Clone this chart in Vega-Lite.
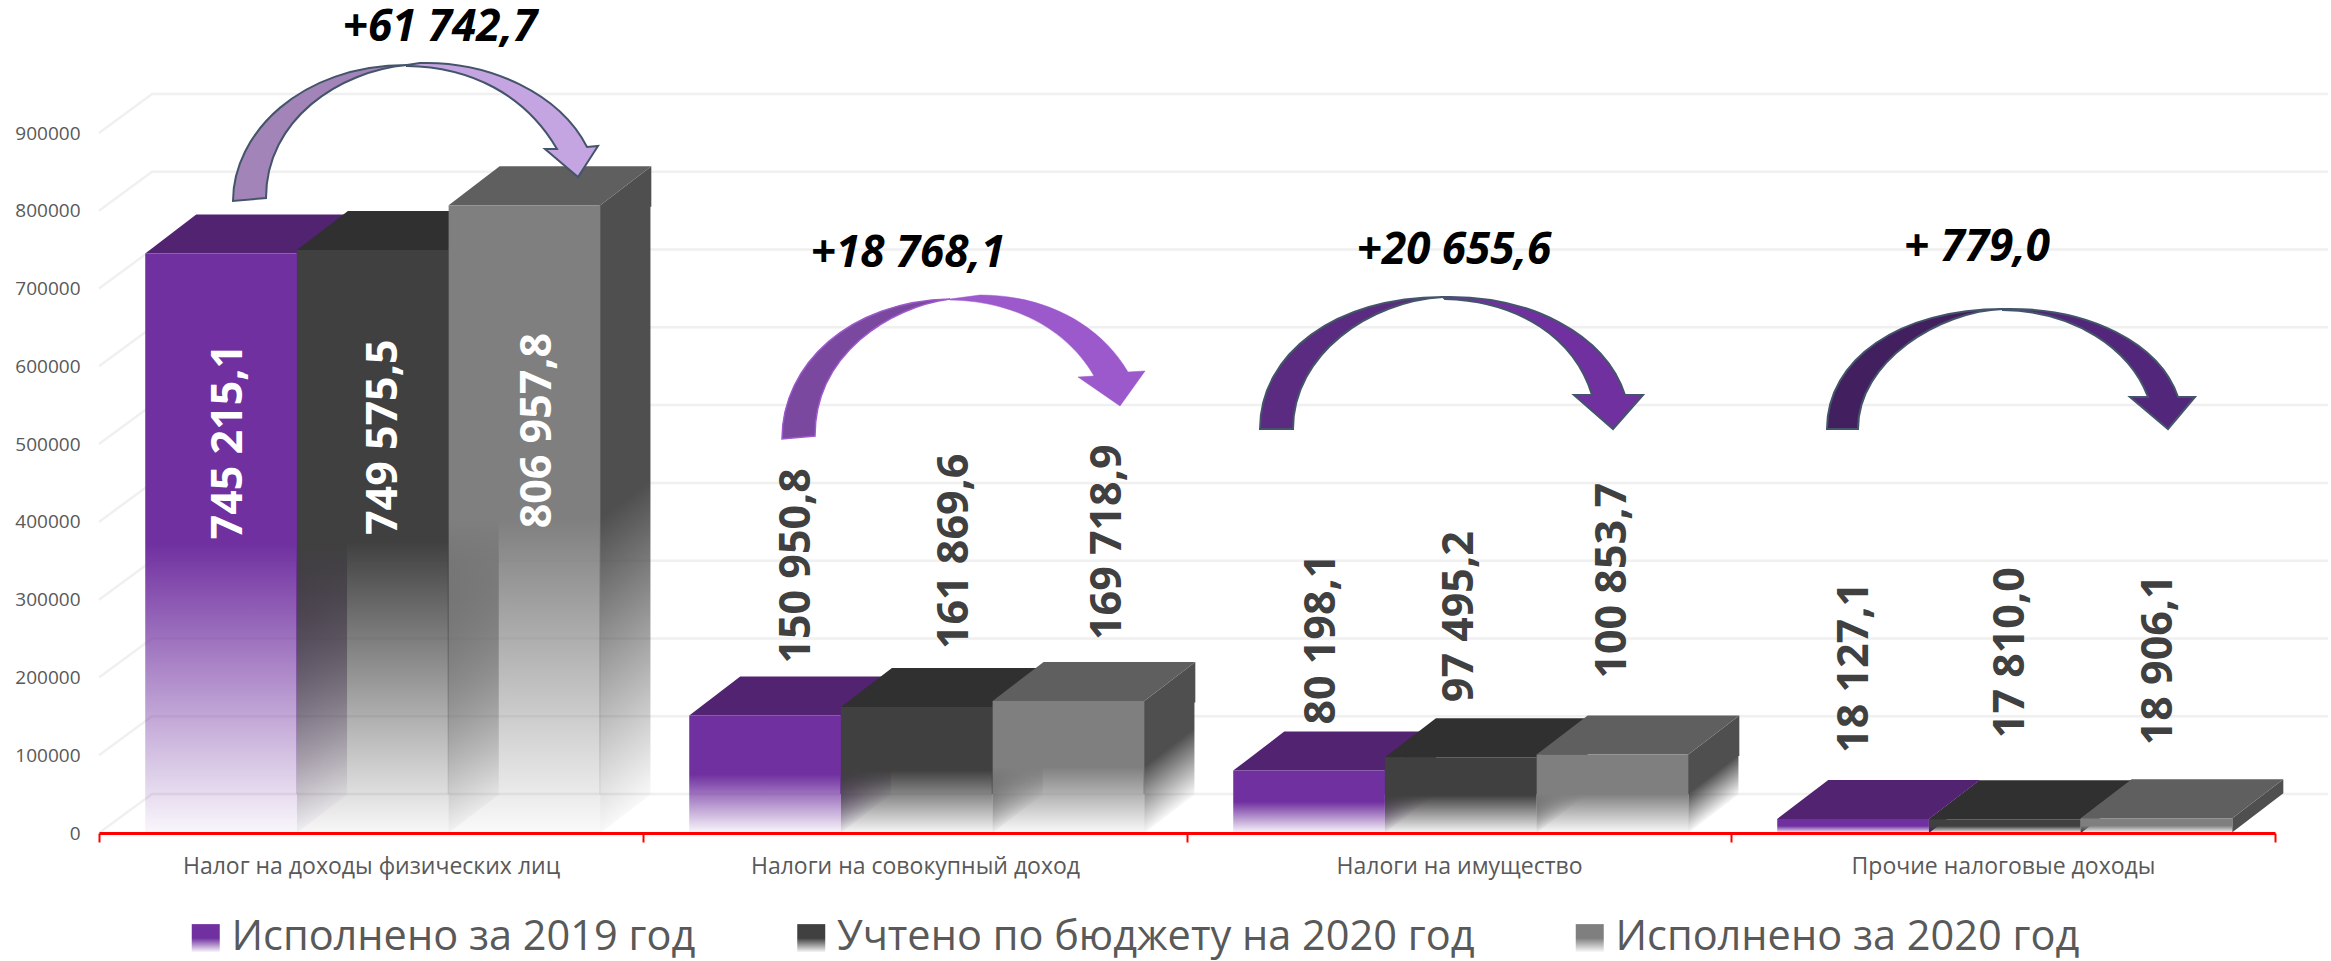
{"$schema":"https://vega.github.io/schema/vega-lite/v6.json","width":2176,"height":700,"autosize":{"type":"none"},"padding":{"left":99,"top":133,"right":56,"bottom":128},"background":"#ffffff",
"params":[
{"name":"sideRGB","value":{"Исполнено за 2019 год":"69,33,95","Учтено по бюджету на 2020 год":"48,48,48","Исполнено за 2020 год":"79,79,79"}},
{"name":"topRGB","value":{"Исполнено за 2019 год":"82,35,112","Учтено по бюджету на 2020 год":"48,48,48","Исполнено за 2020 год":"95,95,95"}},
{"name":"gap","value":{"745 215,1":-286,"749 575,5":-285,"806 957,8":-323,"150 950,8":52,"161 869,6":58,"169 718,9":61,"80 198,1":46,"97 495,2":55,"100 853,7":76,"18 127,1":66,"17 810,0":81,"18 906,1":73}},
{"name":"shift","value":{"745 215,1":8,"749 575,5":11,"806 957,8":14,"150 950,8":32,"161 869,6":38,"169 718,9":40,"80 198,1":13,"97 495,2":-1,"100 853,7":1,"18 127,1":2,"17 810,0":6,"18 906,1":3}},
{"name":"noteDx","value":{"+61 742,7":69,"+18 768,1":-7,"+20 655,6":-5,"+ 779,0":-26}},
{"name":"noteDy","value":{"+61 742,7":-805,"+18 768,1":-579,"+20 655,6":-582,"+ 779,0":-585}}
],
"datasets":{
"bars":[
{"category":"Налог на доходы физических лиц","series":"Исполнено за 2019 год","value":745215.1,"label":"745 215,1"},
{"category":"Налог на доходы физических лиц","series":"Учтено по бюджету на 2020 год","value":749575.5,"label":"749 575,5"},
{"category":"Налог на доходы физических лиц","series":"Исполнено за 2020 год","value":806957.8,"label":"806 957,8"},
{"category":"Налоги на совокупный доход","series":"Исполнено за 2019 год","value":150950.8,"label":"150 950,8"},
{"category":"Налоги на совокупный доход","series":"Учтено по бюджету на 2020 год","value":161869.6,"label":"161 869,6"},
{"category":"Налоги на совокупный доход","series":"Исполнено за 2020 год","value":169718.9,"label":"169 718,9"},
{"category":"Налоги на имущество","series":"Исполнено за 2019 год","value":80198.1,"label":"80 198,1"},
{"category":"Налоги на имущество","series":"Учтено по бюджету на 2020 год","value":97495.2,"label":"97 495,2"},
{"category":"Налоги на имущество","series":"Исполнено за 2020 год","value":100853.7,"label":"100 853,7"},
{"category":"Прочие налоговые доходы","series":"Исполнено за 2019 год","value":18127.1,"label":"18 127,1"},
{"category":"Прочие налоговые доходы","series":"Учтено по бюджету на 2020 год","value":17810.0,"label":"17 810,0"},
{"category":"Прочие налоговые доходы","series":"Исполнено за 2020 год","value":18906.1,"label":"18 906,1"}
],
"ticks":[{"tick":0},{"tick":100000},{"tick":200000},{"tick":300000},{"tick":400000},{"tick":500000},{"tick":600000},{"tick":700000},{"tick":800000},{"tick":900000}],
"changes":[
{"category":"Налог на доходы физических лиц","change":"+61 742,7"},
{"category":"Налоги на совокупный доход","change":"+18 768,1"},
{"category":"Налоги на имущество","change":"+20 655,6"},
{"category":"Прочие налоговые доходы","change":"+ 779,0"}
]},
"layer":[
{"data":{"name":"ticks"},"mark":{"type":"point","shape":"M0,0L53,-39L2229,-39","size":4,"filled":false,"opacity":1,"stroke":"#f0f0f0","strokeWidth":2.5},"encoding":{"x":{"datum":"Налог на доходы физических лиц","type":"nominal","bandPosition":0,"scale":{"type":"band","domain":["Налог на доходы физических лиц","Налоги на совокупный доход","Налоги на имущество","Прочие налоговые доходы"],"paddingInner":0,"paddingOuter":0}},"y":{"field":"tick","type":"quantitative","scale":{"domain":[0,900000],"nice":false},"axis":{"title":null,"values":[0,100000,200000,300000,400000,500000,600000,700000,800000,900000],"format":"d","grid":false,"domain":false,"ticks":false,"labelFont":"Open Sans","labelFontSize":19,"labelColor":"#595959","labelPadding":19}}}},
{"data":{"name":"bars"},"transform":[{"filter":"datum.value>=50000 && datum.series=='Исполнено за 2019 год'"}],"mark":{"type":"bar","width":51,"xOffset":-49.45,"y2Offset":-39,"fill":{"expr":"{gradient:'linear',x1:0,y1:0,x2:(50142.857/datum.value)/(pow(50142.857/datum.value,2)+pow(1-50142.857/datum.value,2)),y2:(1-50142.857/datum.value)/(pow(50142.857/datum.value,2)+pow(1-50142.857/datum.value,2)),stops:[{offset:0,color:'rgba('+sideRGB[datum.series]+',1)'},{offset:0.5,color:'rgba('+sideRGB[datum.series]+',1)'},{offset:1,color:'rgba('+sideRGB[datum.series]+',0.04)'}]}"}},"encoding":{"x":{"field":"category","type":"nominal"},"y":{"field":"value","type":"quantitative","stack":null},"y2":{"datum":0}}},
{"data":{"name":"bars"},"transform":[{"filter":"datum.value>=50000 && datum.series=='Учтено по бюджету на 2020 год'"}],"mark":{"type":"bar","width":51,"xOffset":102.25,"y2Offset":-39,"fill":{"expr":"{gradient:'linear',x1:0,y1:0,x2:(50142.857/datum.value)/(pow(50142.857/datum.value,2)+pow(1-50142.857/datum.value,2)),y2:(1-50142.857/datum.value)/(pow(50142.857/datum.value,2)+pow(1-50142.857/datum.value,2)),stops:[{offset:0,color:'rgba('+sideRGB[datum.series]+',1)'},{offset:0.5,color:'rgba('+sideRGB[datum.series]+',1)'},{offset:1,color:'rgba('+sideRGB[datum.series]+',0.04)'}]}"}},"encoding":{"x":{"field":"category","type":"nominal"},"y":{"field":"value","type":"quantitative","stack":null},"y2":{"datum":0}}},
{"data":{"name":"bars"},"transform":[{"filter":"datum.value>=50000 && datum.series=='Исполнено за 2020 год'"}],"mark":{"type":"bar","width":51,"xOffset":253.95,"y2Offset":-39,"fill":{"expr":"{gradient:'linear',x1:0,y1:0,x2:(50142.857/datum.value)/(pow(50142.857/datum.value,2)+pow(1-50142.857/datum.value,2)),y2:(1-50142.857/datum.value)/(pow(50142.857/datum.value,2)+pow(1-50142.857/datum.value,2)),stops:[{offset:0,color:'rgba('+sideRGB[datum.series]+',1)'},{offset:0.5,color:'rgba('+sideRGB[datum.series]+',1)'},{offset:1,color:'rgba('+sideRGB[datum.series]+',0.04)'}]}"}},"encoding":{"x":{"field":"category","type":"nominal"},"y":{"field":"value","type":"quantitative","stack":null},"y2":{"datum":0}}},
{"data":{"name":"bars"},"transform":[{"filter":"datum.value>=50000"}],"mark":{"type":"point","shape":"M75.85,0L126.85,-39L126.85,1.5L75.85,1.5Z","size":4,"filled":true,"opacity":1,"fill":{"expr":"'rgb('+sideRGB[datum.series]+')'"}},"encoding":{"x":{"field":"category","type":"nominal"},"xOffset":{"field":"series","type":"nominal","scale":{"type":"band","domain":["Исполнено за 2019 год","Учтено по бюджету на 2020 год","Исполнено за 2020 год"],"paddingInner":0,"paddingOuter":0.293,"align":0.52}},"y":{"field":"value","type":"quantitative"}}},
{"data":{"name":"bars"},"transform":[{"filter":"datum.value>=50000"}],"mark":{"type":"point","shape":"M75.85,-39L126.85,-39L75.85,0Z","size":4,"filled":true,"opacity":1,"fill":{"expr":"{gradient:'linear',x1:0,y1:0,x2:0.5,y2:0.5,stops:[{offset:0,color:'rgba('+sideRGB[datum.series]+','+min(1,0.04+2*50142.857/datum.value)+')'},{offset:1,color:'rgba('+sideRGB[datum.series]+',0.04)'}]}"}},"encoding":{"x":{"field":"category","type":"nominal"},"xOffset":{"field":"series","type":"nominal"},"y":{"datum":0,"type":"quantitative"}}},
{"data":{"name":"bars"},"transform":[{"filter":"datum.value<50000"}],"mark":{"type":"point","shape":"M75.85,0L126.85,-39L126.85,-25L75.85,14Z","size":4,"filled":true,"opacity":1,"fill":{"expr":"'rgb('+sideRGB[datum.series]+')'"}},"encoding":{"x":{"field":"category","type":"nominal"},"xOffset":{"field":"series","type":"nominal"},"y":{"field":"value","type":"quantitative"}}},
{"data":{"name":"bars"},"mark":{"type":"point","shape":"M-75.85,0L75.85,0L126.85,-39L-24.85,-39Z","size":4,"filled":true,"opacity":1,"fill":{"expr":"'rgb('+topRGB[datum.series]+')'"}},"encoding":{"x":{"field":"category","type":"nominal"},"xOffset":{"field":"series","type":"nominal"},"y":{"field":"value","type":"quantitative"}}},
{"data":{"name":"bars"},"mark":{"type":"bar"},"encoding":{"x":{"field":"category","type":"nominal","title":null,"axis":{"title":null,"labelAngle":0,"labelAlign":"center","labelBaseline":"top","domainColor":"#ff0000","domainWidth":3,"tickColor":"#ff0000","tickWidth":2,"tickSize":9,"tickBand":"extent","labelFont":"Open Sans","labelFontSize":23,"labelColor":"#595959","labelPadding":13,"labelLimit":600,"zindex":1}},"xOffset":{"field":"series","type":"nominal"},"y":{"field":"value","type":"quantitative","stack":null},"y2":{"datum":0},"fill":{"field":"series","type":"nominal","title":null,"scale":{"domain":["Исполнено за 2019 год","Учтено по бюджету на 2020 год","Исполнено за 2020 год"],"range":[
{"expr":"{gradient:'linear',x1:0,y1:0,x2:0,y2:1,stops:[{offset:0,color:'#7030a0'},{offset:0.5,color:'#7030a0'},{offset:1,color:'rgba(112,48,160,0.04)'}]}"},
{"expr":"{gradient:'linear',x1:0,y1:0,x2:0,y2:1,stops:[{offset:0,color:'#404040'},{offset:0.5,color:'#404040'},{offset:1,color:'rgba(64,64,64,0.04)'}]}"},
{"expr":"{gradient:'linear',x1:0,y1:0,x2:0,y2:1,stops:[{offset:0,color:'#7f7f7f'},{offset:0.5,color:'#7f7f7f'},{offset:1,color:'rgba(127,127,127,0.04)'}]}"}
]},"legend":{"orient":"none","direction":"horizontal","legendX":86,"legendY":784,"title":null,"symbolType":"square","symbolSize":784,"symbolStrokeWidth":0,"labelFont":"Open Sans","labelFontSize":41.5,"labelColor":"#595959","labelOffset":5,"labelLimit":900,"columnPadding":94.5,"padding":0,"values":["Исполнено за 2019 год","Учтено по бюджету на 2020 год","Исполнено за 2020 год"]}}}},
{"data":{"name":"bars"},"mark":{"type":"text","angle":270,"align":"left","baseline":"middle","font":"Open Sans","fontWeight":"bold","fontSize":43,"dx":{"expr":"gap[datum.label]"},"dy":{"expr":"shift[datum.label]"}},"encoding":{"x":{"field":"category","type":"nominal"},"xOffset":{"field":"series","type":"nominal"},"y":{"field":"value","type":"quantitative"},"text":{"field":"label"},"color":{"condition":{"test":"datum.value>500000","value":"#ffffff"},"value":"#404040"}}},
{"data":{"name":"changes"},"transform":[{"filter":"datum.change=='+61 742,7'"}],"mark":{"type":"point","shape":"M-138,-632C-138,-699,-71,-768,36,-768C-31,-762,-105,-714,-105,-635Z","size":4,"filled":true,"opacity":1,"fill":"#a284b8","stroke":"#44546a","strokeWidth":2},"encoding":{"x":{"field":"category","type":"nominal"},"y":{"datum":0,"type":"quantitative"}}},
{"data":{"name":"changes"},"transform":[{"filter":"datum.change=='+61 742,7'"}],"mark":{"type":"point","shape":"M36,-768L49,-770C119,-772,189,-739,216,-686L227,-687L207,-656L174,-684L186,-684C154,-739,99,-766,36,-767Z","size":4,"filled":true,"opacity":1,"fill":"#c5a5e1","stroke":"#44546a","strokeWidth":2},"encoding":{"x":{"field":"category","type":"nominal"},"y":{"datum":0,"type":"quantitative"}}},
{"data":{"name":"changes"},"transform":[{"filter":"datum.change=='+18 768,1'"}],"mark":{"type":"point","shape":"M-133,-394C-133,-469,-65,-532,35,-534C-25,-526,-100,-479,-100,-397Z","size":4,"filled":true,"opacity":1,"fill":"#7b48a0","stroke":"#9b59cc","strokeWidth":1.5},"encoding":{"x":{"field":"category","type":"nominal"},"y":{"datum":0,"type":"quantitative"}}},
{"data":{"name":"changes"},"transform":[{"filter":"datum.change=='+18 768,1'"}],"mark":{"type":"point","shape":"M35,-534L65,-538C130,-538,185,-509,213,-461L230,-462L205,-427L163,-456L179,-457C155,-499,105,-532,35,-533Z","size":4,"filled":true,"opacity":1,"fill":"#9b59cc","stroke":"#9b59cc","strokeWidth":0.5},"encoding":{"x":{"field":"category","type":"nominal"},"y":{"datum":0,"type":"quantitative"}}},
{"data":{"name":"changes"},"transform":[{"filter":"datum.change=='+20 655,6'"}],"mark":{"type":"point","shape":"M-199,-404C-199,-479,-124,-536,-16,-536C-89,-532,-166,-479,-166,-404Z","size":4,"filled":true,"opacity":1,"fill":"#5a2b80","stroke":"#44546a","strokeWidth":2},"encoding":{"x":{"field":"category","type":"nominal"},"y":{"datum":0,"type":"quantitative"}}},
{"data":{"name":"changes"},"transform":[{"filter":"datum.change=='+20 655,6'"}],"mark":{"type":"point","shape":"M-16,-536C71,-538,146,-499,166,-438L184,-438L154,-404L115,-438L133,-438C116,-494,61,-532,-14,-534Z","size":4,"filled":true,"opacity":1,"fill":"#7030a0","stroke":"#44546a","strokeWidth":2},"encoding":{"x":{"field":"category","type":"nominal"},"y":{"datum":0,"type":"quantitative"}}},
{"data":{"name":"changes"},"transform":[{"filter":"datum.change=='+ 779,0'"}],"mark":{"type":"point","shape":"M-176,-404C-176,-474,-103,-524,0,-524C-63,-522,-145,-472,-145,-404Z","size":4,"filled":true,"opacity":1,"fill":"#42205f","stroke":"#44546a","strokeWidth":2},"encoding":{"x":{"field":"category","type":"nominal"},"y":{"datum":0,"type":"quantitative"}}},
{"data":{"name":"changes"},"transform":[{"filter":"datum.change=='+ 779,0'"}],"mark":{"type":"point","shape":"M0,-524C87,-526,157,-489,175,-436L192,-436L165,-404L127,-436L145,-436C127,-484,72,-522,0,-523Z","size":4,"filled":true,"opacity":1,"fill":"#52267a","stroke":"#44546a","strokeWidth":2},"encoding":{"x":{"field":"category","type":"nominal"},"y":{"datum":0,"type":"quantitative"}}},
{"data":{"name":"changes"},"mark":{"type":"text","align":"center","baseline":"middle","font":"Open Sans","fontWeight":"bold","fontStyle":"italic","fontSize":44,"color":"#000000","dx":{"expr":"noteDx[datum.change]"},"dy":{"expr":"noteDy[datum.change]"}},"encoding":{"x":{"field":"category","type":"nominal"},"y":{"datum":0,"type":"quantitative"},"text":{"field":"change"}}}
],
"config":{"view":{"stroke":null}}}
